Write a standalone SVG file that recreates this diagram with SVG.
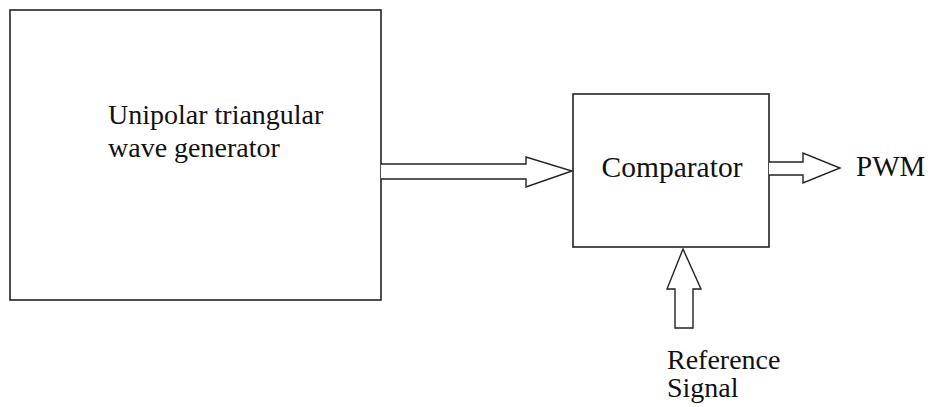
<svg xmlns="http://www.w3.org/2000/svg" width="932" height="407" viewBox="0 0 932 407">
<style>
.box{fill:#fff;stroke:#222;stroke-width:1.6}
.arr{fill:#fff;stroke:#222;stroke-width:1.4;stroke-linejoin:miter}
text{font-family:"Liberation Serif","Times New Roman",serif;font-size:28px;fill:#111}
</style>
<rect width="932" height="407" fill="#fff"/>
<g id="generator">
<rect class="box" x="10" y="10" width="371" height="290"/>
<text x="108" y="124">Unipolar triangular</text>
<text x="108" y="157">wave generator</text>
</g>
<g id="comparator">
<rect class="box" x="573" y="94" width="196" height="153"/>
<text x="672" y="177" text-anchor="middle" style="font-size:29.5px">Comparator</text>
</g>
<g id="pwm">
<text x="856" y="176" style="font-size:29px">PWM</text>
</g>
<g id="reference">
<text x="667" y="369">Reference</text>
<text x="667" y="397">Signal</text>
</g>
<g id="connectors">
<path class="arr" d="M381,164 H526 V157 L572,171 L526,187 V179 H381"/>
<path class="arr" d="M769,162 H803 V153 L840,168 L803,183 V175 H769"/>
<path class="arr" d="M675,328 V289 H667 L683,249 L701,289 H693 V328 Z"/>
</g>
</svg>
